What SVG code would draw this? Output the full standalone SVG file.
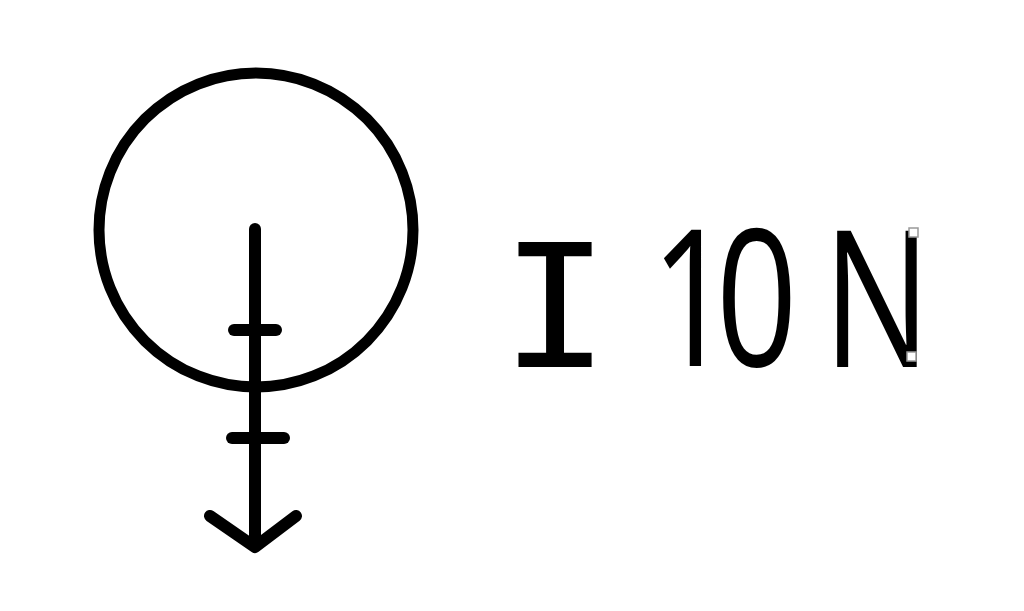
<svg xmlns="http://www.w3.org/2000/svg" width="1024" height="611" viewBox="0 0 1024 611">
<style>
.ln{fill:none;stroke:#000;stroke-width:12;stroke-linecap:round;stroke-linejoin:round}
.lbl{font-family:"Open Sans","Liberation Sans",sans-serif;font-weight:400;font-size:190px;fill:#000}
.mono{font-family:"DejaVu Sans Mono","Liberation Mono",monospace;font-weight:400;font-size:172px;fill:#000}
.hd{fill:#fff;stroke:#999;stroke-width:1.5}
</style>
<rect width="1024" height="611" fill="#fff"/>
<g id="circle"><circle cx="256" cy="230" r="157" fill="none" stroke="#000" stroke-width="11"/></g>
<g id="connectors">
<path class="ln" d="M255 229 L255 546"/>
<path class="ln" d="M234 330 L276 330"/>
<path class="ln" d="M232 438 L284 438"/>
<path class="ln" d="M210 516 L255 547 L296 516"/>
</g>
<g id="label">
<text class="mono" text-anchor="middle" x="0" y="367" transform="translate(555 0) scale(1.05 1)">I</text>
<text class="lbl" text-anchor="middle" transform="scale(0.75 1)"><tspan x="954.7" y="366" letter-spacing="-22">10</tspan><tspan x="1169.3" y="367">N</tspan></text>
<rect class="hd" x="909" y="228" width="9" height="9"/>
<rect class="hd" x="907" y="352" width="9" height="9"/>
</g>
</svg>
